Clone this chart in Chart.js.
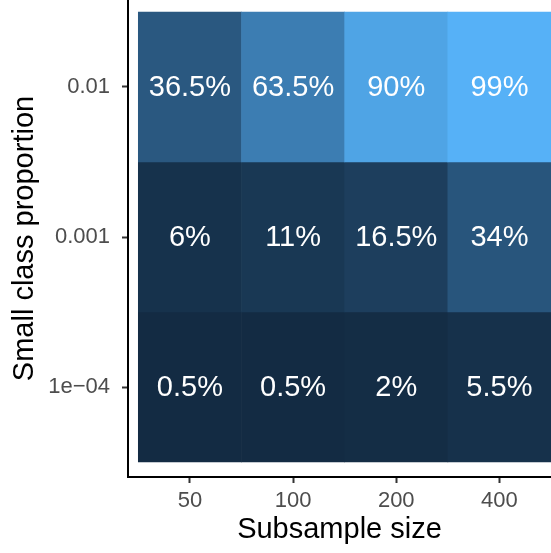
<!DOCTYPE html>
<html>
<head>
<meta charset="utf-8">
<script src="https://cdn.jsdelivr.net/npm/chart.js@4/dist/chart.umd.min.js"></script>
<style>
  html, body { margin: 0; padding: 0; background: #fff; }
  #wrap { width: 551px; height: 553px; }
</style>
</head>
<body>
<div id="wrap"><canvas id="heat"></canvas></div>
<script>
// Columnas (tamaño de submuestra) y filas (proporción de la clase pequeña, de abajo a arriba)
const subsampleSizes = ['50', '100', '200', '400'];
const classProportions = ['1e\u221204', '0.001', '0.01'];

// Porcentajes por fila
const pct1e04 = [0.5, 0.5, 2, 5.5];
const pct0001 = [6, 11, 16.5, 34];
const pct001 = [36.5, 63.5, 90, 99];
const filas = [pct1e04, pct0001, pct001];

// Escala de color tipo ggplot (de #132B43 a #56B1F7, interpolada en Lab)
function hexToRgb(h) {
    return [1, 3, 5].map(i => parseInt(h.substr(i, 2), 16));
}
function rgbToLab(rgb) {
    const lin = rgb.map(c => { c /= 255; return c <= 0.04045 ? c / 12.92 : Math.pow((c + 0.055) / 1.055, 2.4); });
    const X = (lin[0] * 0.4124 + lin[1] * 0.3576 + lin[2] * 0.1805) / 0.95047;
    const Y = (lin[0] * 0.2126 + lin[1] * 0.7152 + lin[2] * 0.0722);
    const Z = (lin[0] * 0.0193 + lin[1] * 0.1192 + lin[2] * 0.9505) / 1.08883;
    const f = t => t > 0.008856 ? Math.cbrt(t) : 7.787 * t + 16 / 116;
    return [116 * f(Y) - 16, 500 * (f(X) - f(Y)), 200 * (f(Y) - f(Z))];
}
function labToRgb(lab) {
    const fy = (lab[0] + 16) / 116, fx = fy + lab[1] / 500, fz = fy - lab[2] / 200;
    const inv = t => t * t * t > 0.008856 ? t * t * t : (t - 16 / 116) / 7.787;
    const X = inv(fx) * 0.95047, Y = inv(fy), Z = inv(fz) * 1.08883;
    const lin = [
        X * 3.2406 + Y * -1.5372 + Z * -0.4986,
        X * -0.9689 + Y * 1.8758 + Z * 0.0415,
        X * 0.0557 + Y * -0.2040 + Z * 1.0570
    ];
    return lin.map(c => {
        c = c <= 0.0031308 ? 12.92 * c : 1.055 * Math.pow(c, 1 / 2.4) - 0.055;
        return Math.round(Math.min(1, Math.max(0, c)) * 255);
    });
}
const labBajo = rgbToLab(hexToRgb('#132B43'));
const labAlto = rgbToLab(hexToRgb('#56B1F7'));
const todos = filas.flat();
const vMin = Math.min(...todos), vMax = Math.max(...todos);
function colorPara(v) {
    const t = (v - vMin) / (vMax - vMin);
    const lab = labBajo.map((b, i) => b + (labAlto[i] - b) * t);
    const rgb = labToRgb(lab);
    return `rgb(${rgb[0]}, ${rgb[1]}, ${rgb[2]})`;
}

// Celdas como barras flotantes
const celdas = [];
filas.forEach((fila, r) => {
    fila.forEach((v, c) => {
        celdas.push({ x: c, y: [r - 0.5, r + 0.5], pct: v });
    });
});

// Texto dentro de cada celda
const etiquetasCeldas = {
    id: 'etiquetasCeldas',
    afterDatasetsDraw(chart) {
        const ctx = chart.ctx;
        const meta = chart.getDatasetMeta(0);
        ctx.save();
        ctx.fillStyle = '#ffffff';
        ctx.font = '29px "Liberation Sans", Arial, sans-serif';
        ctx.textAlign = 'center';
        ctx.textBaseline = 'middle';
        meta.data.forEach((bar, i) => {
            const p = bar.getProps(['x', 'y', 'base'], true);
            ctx.fillText(celdas[i].pct + '%', p.x, (p.y + p.base) / 2 + 1);
        });
        ctx.restore();
    }
};

const fuenteTicks = { family: '"Liberation Sans", Arial, sans-serif', size: 22 };
const fuenteTitulo = { family: '"Liberation Sans", Arial, sans-serif', size: 29, lineHeight: 1 };

new Chart(document.getElementById('heat'), {
    type: 'bar',
    data: {
        datasets: [{
            data: celdas,
            backgroundColor: celdas.map(d => colorPara(d.pct)),
            borderWidth: 0,
            barPercentage: 1,
            categoryPercentage: 1
        }]
    },
    options: {
        responsive: true,
        maintainAspectRatio: false,
        animation: false,
        layout: { padding: 0 },
        plugins: {
            legend: { display: false },
            tooltip: { enabled: false }
        },
        scales: {
            x: {
                type: 'linear',
                min: -0.6,
                max: 3.5,
                offset: false,
                afterFit: scale => {
                    scale.height = 76;
                    scale.paddingLeft = 0;
                    scale.paddingRight = 0;
                },
                afterBuildTicks: scale => { scale.ticks = subsampleSizes.map((_, i) => ({ value: i })); },
                ticks: {
                    callback: v => subsampleSizes[v],
                    color: '#4D4D4D',
                    font: fuenteTicks,
                    padding: 5,
                    maxRotation: 0,
                    autoSkip: false
                },
                grid: {
                    offset: false,
                    drawOnChartArea: false,
                    drawTicks: true,
                    tickLength: 6,
                    tickWidth: 2,
                    tickColor: '#333333'
                },
                border: { display: true, color: '#000000', width: 2 },
                title: {
                    display: true,
                    text: 'Subsample size',
                    color: '#000000',
                    font: fuenteTitulo,
                    padding: { top: 0, bottom: 9 }
                }
            },
            y: {
                type: 'linear',
                min: -0.6,
                max: 2.58,
                afterFit: scale => {
                    scale.width = 128;
                    scale.paddingTop = 0;
                    scale.paddingBottom = 0;
                },
                afterBuildTicks: scale => { scale.ticks = classProportions.map((_, i) => ({ value: i })); },
                ticks: {
                    callback: v => classProportions[v],
                    color: '#4D4D4D',
                    font: fuenteTicks,
                    padding: 12,
                    autoSkip: false
                },
                grid: {
                    drawOnChartArea: false,
                    drawTicks: true,
                    tickLength: 6,
                    tickWidth: 2,
                    tickColor: '#333333'
                },
                border: { display: true, color: '#000000', width: 2 },
                title: {
                    display: true,
                    text: 'Small class proportion',
                    color: '#000000',
                    font: fuenteTitulo,
                    padding: { top: 10, bottom: 0 }
                }
            }
        }
    },
    plugins: [etiquetasCeldas]
});
</script>
</body>
</html>
